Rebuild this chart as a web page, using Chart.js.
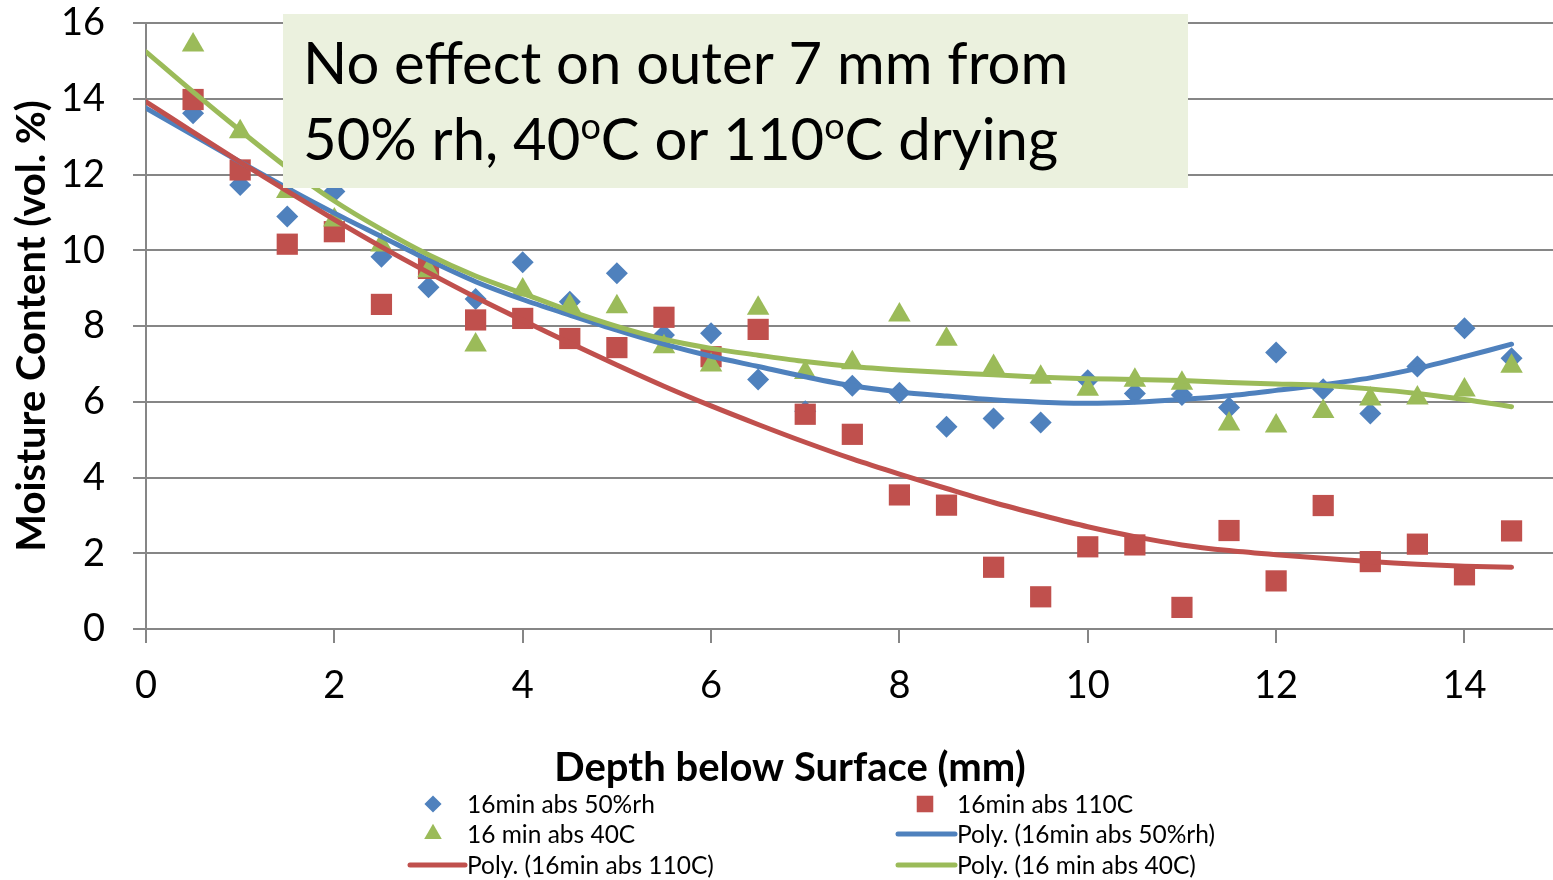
<!DOCTYPE html>
<html>
<head>
<meta charset="utf-8">
<title>Moisture content vs depth</title>
<script src="https://cdn.jsdelivr.net/npm/chart.js@4"></script>
<style>
  html, body { margin: 0; padding: 0; background: #fff; }
  #wrap { width: 1553px; height: 880px; }
</style>
</head>
<body>
<div id="wrap"><canvas id="chart" width="1553" height="880"></canvas></div>
<script>
// measured depths (mm)
const depth = [0.5, 1, 1.5, 2, 2.5, 3, 3.5, 4, 4.5, 5, 5.5, 6, 6.5, 7, 7.5, 8, 8.5, 9, 9.5, 10, 10.5, 11, 11.5, 12, 12.5, 13, 13.5, 14, 14.5];

// moisture content (vol. %) per series
const rh50 = [13.62, 11.72, 10.89, 11.55, 9.83, 9.02, 8.71, 9.68, 8.64, 9.39, 7.76, 7.81, 6.59, 5.75, 6.42, 6.24, 5.34, 5.56, 5.45, 6.57, 6.22, 6.18, 5.85, 7.30, 6.33, 5.69, 6.93, 7.94, 7.15];
const dry110 = [13.98, 12.12, 10.16, 10.49, 8.57, 9.52, 8.16, 8.20, 7.67, 7.43, 8.23, 7.19, 7.91, 5.67, 5.14, 3.54, 3.27, 1.63, 0.85, 2.17, 2.22, 0.57, 2.60, 1.27, 3.26, 1.78, 2.24, 1.43, 2.59];
const dry40 = [15.42, 13.13, 11.55, 10.80, 10.14, 9.46, 7.50, 8.95, 8.53, 8.51, 7.45, 6.97, 8.47, 6.77, 7.03, 8.29, 7.65, 6.93, 6.65, 6.33, 6.57, 6.49, 5.41, 5.36, 5.74, 6.07, 6.10, 6.31, 6.94];

// polynomial trend lines
const trendDepth = [0, 0.5, 1, 1.5, 2, 2.5, 3, 3.5, 4, 4.5, 5, 5.5, 6, 6.5, 7, 7.5, 8, 8.5, 9, 9.5, 10, 10.5, 11, 11.5, 12, 12.5, 13, 13.5, 14, 14.5];
const trendRh50 = [13.75, 13.04, 12.33, 11.64, 10.98, 10.36, 9.74, 9.17, 8.70, 8.29, 7.89, 7.52, 7.20, 6.93, 6.66, 6.42, 6.26, 6.15, 6.05, 5.99, 5.96, 5.99, 6.06, 6.16, 6.30, 6.45, 6.63, 6.88, 7.19, 7.52];
const trendDry110 = [13.92, 13.12, 12.33, 11.56, 10.81, 10.09, 9.41, 8.76, 8.15, 7.55, 6.97, 6.41, 5.89, 5.40, 4.93, 4.49, 4.09, 3.71, 3.34, 3.01, 2.70, 2.44, 2.22, 2.07, 1.96, 1.87, 1.78, 1.71, 1.66, 1.63];
const trendDry40 = [15.24, 14.18, 13.16, 12.18, 11.30, 10.55, 9.88, 9.32, 8.86, 8.40, 7.99, 7.65, 7.41, 7.23, 7.06, 6.93, 6.84, 6.77, 6.71, 6.65, 6.61, 6.59, 6.56, 6.51, 6.47, 6.43, 6.34, 6.22, 6.06, 5.87];

const yTicks = [0, 2, 4, 6, 8, 10, 12, 14, 16];
const xTicks = [0, 2, 4, 6, 8, 10, 12, 14];

const BLUE = '#4F81BD', RED = '#C0504D', GREEN = '#9BBB59';
const GRID = '#868686';
const FONT = 'Lato';

function pts(xs, ys) { return xs.map((x, i) => ({ x: x, y: ys[i] })); }

function markerSet(label, data, color, style, radius, order) {
  return { label, data, order, showLine: false, pointStyle: style, pointRadius: radius,
           pointBackgroundColor: color, pointBorderWidth: 0, borderColor: color, backgroundColor: color };
}
function trendSet(label, data, color, order) {
  return { label, data, order, showLine: true, pointRadius: 0, borderColor: color, borderWidth: 5,
           borderCapStyle: 'round', tension: 0.3, fill: false };
}

// annotation box, x-axis title and the 2-column legend
const extras = {
  id: 'extras',
  afterDraw(chart) {
    const ctx = chart.ctx;
    ctx.save();

    // note box
    ctx.fillStyle = '#EBF1DE';
    ctx.fillRect(283, 14, 905, 174);
    ctx.fillStyle = '#000';
    ctx.textBaseline = 'alphabetic';
    ctx.textAlign = 'left';
    const big = 58;
    ctx.font = big + 'px ' + FONT;
    ctx.fillText('No effect on outer 7 mm from', 303, 84);
    let x = 303;
    const parts = [['50% rh, 40', false], ['o', true], ['C or 110', false], ['o', true], ['C drying', false]];
    parts.forEach(([t, sup]) => {
      ctx.font = (sup ? Math.round(big * 0.62) : big) + 'px ' + FONT;
      ctx.fillText(t, x, sup ? 160 - big * 0.36 : 160);
      x += ctx.measureText(t).width;
    });

    // x-axis title (sits left of the plot centre in the original)
    ctx.font = 'bold 40px ' + FONT;
    ctx.textAlign = 'center';
    ctx.textBaseline = 'middle';
    ctx.fillText('Depth below Surface (mm)', 790, 768);

    // legend
    const ds = chart.data.datasets;
    const cols = [{ mark: 433, line0: 410, text: 467 }, { mark: 925, line0: 898, text: 957 }];
    const rows = [804, 834, 865];
    ctx.font = '24.5px ' + FONT;
    ctx.textAlign = 'left';
    ds.forEach((d, i) => {
      const c = cols[i % 2], y = rows[Math.floor(i / 2)];
      if (d.showLine) {
        ctx.strokeStyle = d.borderColor;
        ctx.lineWidth = 5;
        ctx.lineCap = 'round';
        ctx.beginPath(); ctx.moveTo(c.line0, y); ctx.lineTo(c.text - 2, y); ctx.stroke();
      } else {
        ctx.fillStyle = d.pointBackgroundColor;
        Chart.helpers.drawPoint(ctx, { pointStyle: d.pointStyle, radius: d.pointRadius * 0.78, rotation: 0, borderWidth: 0 }, c.mark, y);
      }
      ctx.fillStyle = '#000';
      ctx.fillText(d.label, c.text, y + 1);
    });
    ctx.restore();
  }
};

new Chart(document.getElementById('chart'), {
  type: 'scatter',
  data: {
    datasets: [
      markerSet('16min abs 50%rh', pts(depth, rh50), BLUE, 'rectRot', 11, 5),
      markerSet('16min abs 110C', pts(depth, dry110), RED, 'rect', 15, 4),
      markerSet('16 min abs 40C', pts(depth, dry40), GREEN, 'triangle', 13, 3),
      trendSet('Poly. (16min abs 50%rh)', pts(trendDepth, trendRh50), BLUE, 2),
      trendSet('Poly. (16min abs 110C)', pts(trendDepth, trendDry110), RED, 1),
      trendSet('Poly. (16 min abs 40C)', pts(trendDepth, trendDry40), GREEN, 0)
    ]
  },
  options: {
    responsive: false,
    devicePixelRatio: 1,
    animation: false,
    layout: { autoPadding: false, padding: { top: 23, right: 0, bottom: 88, left: 0 } },
    plugins: { legend: { display: false }, tooltip: { enabled: false } },
    scales: {
      x: {
        type: 'linear', min: 0, max: 14.94,
        afterBuildTicks: s => { s.ticks = xTicks.map(v => ({ value: v })); },
        afterFit: s => { s.height = 163; s.paddingLeft = 0; s.paddingRight = 0; },
        grid: { drawOnChartArea: false, drawTicks: true, tickLength: 14, color: GRID, lineWidth: 2 },
        border: { display: true, color: GRID, width: 2 },
        ticks: { color: '#000', font: { family: FONT, size: 38 }, padding: 20 },
        title: { display: false }
      },
      y: {
        min: 0, max: 16,
        afterBuildTicks: s => { s.ticks = yTicks.map(v => ({ value: v })); },
        afterFit: s => { s.width = 146; s.paddingTop = 0; s.paddingBottom = 0; },
        grid: { color: GRID, lineWidth: 2, tickLength: 13 },
        border: { display: true, color: GRID, width: 2 },
        ticks: { color: '#000', font: { family: FONT, size: 38 }, padding: 28 },
        title: { display: true, text: 'Moisture Content (vol. %)', color: '#000',
                 font: { family: FONT, size: 40, weight: 'bold' }, padding: { top: 8, bottom: 0 } }
      }
    }
  },
  plugins: [extras]
});
</script>
</body>
</html>
